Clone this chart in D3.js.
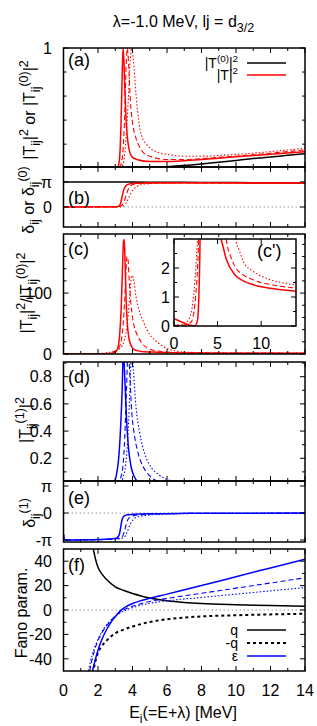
<!DOCTYPE html>
<html><head><meta charset="utf-8">
<script src="https://cdn.jsdelivr.net/npm/d3@7"></script>
<style>body{margin:0;background:#fff}svg{display:block;font-family:"Liberation Sans",Arial,Helvetica,sans-serif}</style>
</head><body><svg id="chart" width="317" height="726"></svg>
<script>
// ---------------- DATA ----------------
const xMajorTicks = [0, 2, 4, 6, 8, 10, 12, 14];
const xMinorTicks = [1, 3, 5, 7, 9, 11, 13];

// (a) |T0|^2 and |T|^2
const T0sq = [[0,0],[3,0.002],[5,0.008],[6,0.013],[7,0.022],[8,0.035],[9,0.05],[10,0.065],[11,0.08],[12,0.093],[13,0.107],[14,0.12]];
const Tsq_solid = [[0,0],[3.0,0],[3.15,0.01],[3.25,0.08],[3.33,0.35],[3.4,0.75],[3.45,1.0],[3.5,0.9],[3.57,0.6],[3.65,0.35],[3.75,0.2],[3.85,0.13],[4.0,0.09],[4.3,0.07],[5,0.055],[6,0.055],[7,0.062],[8,0.072],[9,0.083],[10,0.095],[11,0.105],[12,0.116],[13,0.127],[14,0.138]];
const Tsq_dashed = [[0,0],[3.1,0],[3.3,0.02],[3.45,0.15],[3.55,0.45],[3.63,0.85],[3.7,1.0],[3.78,0.85],[3.88,0.55],[4.0,0.38],[4.2,0.25],[4.4,0.18],[4.6,0.135],[5,0.1],[5.5,0.08],[6,0.072],[7,0.072],[8,0.08],[9,0.09],[10,0.1],[11,0.112],[12,0.125],[13,0.138],[14,0.152]];
const Tsq_dotted = [[0,0],[3.2,0],[3.45,0.03],[3.6,0.2],[3.75,0.55],[3.87,0.9],[3.95,1.0],[4.05,0.9],[4.2,0.62],[4.4,0.35],[4.6,0.24],[4.8,0.2],[5,0.17],[5.5,0.13],[6,0.115],[7,0.1],[8,0.1],[9,0.106],[10,0.115],[11,0.125],[12,0.138],[13,0.152],[14,0.166]];

// (b) phase shifts
const delta0 = [[0,3.14],[2,3.13],[4,3.11],[6,3.09],[8,3.07],[10,3.05],[12,3.03],[14,3.01]];
const delta_solid = [[0,0],[3.0,0.02],[3.2,0.1],[3.3,0.4],[3.4,1.3],[3.45,1.8],[3.5,2.2],[3.6,2.6],[3.7,2.8],[3.9,2.92],[4.2,2.97],[5,3.0],[8,3.02],[14,3.0]];
const delta_dashed = [[0,0],[3.1,0.02],[3.3,0.1],[3.45,0.4],[3.55,0.9],[3.65,1.6],[3.75,2.2],[3.85,2.55],[4.0,2.78],[4.3,2.92],[4.8,2.98],[6,3.01],[14,3.0]];
const delta_dotted = [[0,0],[3.2,0.02],[3.45,0.12],[3.6,0.4],[3.75,1.0],[3.9,1.7],[4.05,2.2],[4.25,2.55],[4.5,2.78],[5,2.92],[5.6,2.98],[7,3.01],[14,3.0]];

// (c) and (c') ratio |T|^2/|T0|^2
const ratio_solid = [[0,0.25],[0.5,0.19],[1,0.12],[1.5,0.06],[2,0.02],[2.4,0.01],[2.7,0.2],[2.85,1.0],[2.95,2.2],[3.05,4.5],[3.15,10],[3.25,30],[3.35,80],[3.42,140],[3.48,185],[3.52,188],[3.57,150],[3.63,90],[3.7,50],[3.8,25],[3.9,15],[4.0,10],[4.2,6],[4.5,4.2],[5,3.3],[5.4,3.0],[6,2.3],[7,1.76],[8,1.55],[9,1.43],[10,1.35],[11,1.3],[12,1.26],[13,1.23],[14,1.2]];
const ratio_dashed = [[0,0.02],[0.5,0.03],[1,0.03],[1.5,0.04],[2,0.15],[2.3,0.5],[2.5,1.1],[2.7,2.0],[2.85,3.2],[3.0,5],[3.2,10],[3.35,22],[3.45,45],[3.55,90],[3.62,135],[3.68,160],[3.73,158],[3.8,125],[3.9,85],[4.0,60],[4.1,45],[4.23,34],[4.4,24],[4.6,16],[5,8],[5.5,4.8],[6,3.0],[6.5,2.4],[7,2.05],[8,1.75],[9,1.6],[10,1.5],[11,1.43],[12,1.38],[13,1.34],[14,1.31]];
const ratio_dotted = [[0,0.01],[0.5,0.02],[1,0.05],[1.5,0.15],[2,0.5],[2.3,1.2],[2.5,2.0],[2.7,3.0],[3.0,5],[3.3,10],[3.5,20],[3.65,40],[3.75,65],[3.85,100],[3.93,125],[4.0,129],[4.08,120],[4.2,95],[4.4,70],[4.6,55],[4.8,42],[5.0,32],[5.5,18],[6,9],[6.5,5],[7,3.1],[7.5,2.6],[8,2.2],[9,1.9],[10,1.72],[11,1.6],[12,1.52],[13,1.46],[14,1.41]];

// (d) |T1|^2
const T1sq_solid = [[2.9,0],[3.0,0.04],[3.1,0.1],[3.2,0.2],[3.3,0.4],[3.4,0.7],[3.47,1.0],[3.55,0.8],[3.65,0.5],[3.75,0.3],[3.9,0.15],[4.05,0.08],[4.25,0.035],[4.5,0.02],[5,0.01],[14,0]];
const T1sq_dashed = [[3.1,0],[3.3,0.05],[3.45,0.15],[3.55,0.35],[3.65,0.7],[3.75,1.0],[3.85,0.8],[3.95,0.55],[4.1,0.38],[4.3,0.25],[4.5,0.17],[4.75,0.11],[5.0,0.07],[5.3,0.04],[5.7,0.025],[6.5,0.01],[14,0]];
const T1sq_dotted = [[3.2,0],[3.45,0.06],[3.6,0.15],[3.75,0.4],[3.85,0.7],[3.95,1.0],[4.05,0.85],[4.2,0.58],[4.4,0.4],[4.6,0.28],[4.8,0.2],[5.1,0.13],[5.5,0.08],[6.0,0.045],[6.5,0.03],[7.5,0.015],[14,0]];

// (e) delta1
const delta1_solid = [[0,-2.45],[0.05,-3.1],[0.3,-3.14],[1,-3.12],[2,-3.08],[2.6,-3.03],[3.0,-2.95],[3.15,-2.8],[3.25,-2.4],[3.32,-1.6],[3.38,-0.9],[3.45,-0.5],[3.55,-0.3],[3.7,-0.2],[4,-0.15],[5,-0.08],[7,-0.04],[10,-0.02],[14,-0.01]];
const delta1_dashed = [[0,-2.45],[0.05,-3.1],[0.3,-3.14],[2,-3.1],[3.0,-3.0],[3.3,-2.9],[3.45,-2.6],[3.55,-2.0],[3.65,-1.2],[3.75,-0.7],[3.9,-0.45],[4.1,-0.3],[4.5,-0.2],[5.5,-0.1],[8,-0.04],[14,-0.015]];
const delta1_dotted = [[0,-2.45],[0.05,-3.1],[0.3,-3.14],[2,-3.1],[3.1,-3.02],[3.45,-2.9],[3.6,-2.6],[3.75,-1.9],[3.9,-1.2],[4.05,-0.75],[4.3,-0.45],[4.7,-0.3],[5.3,-0.18],[6.5,-0.09],[9,-0.04],[14,-0.02]];

// (f) Fano parameters
const q_vals = [[1.7,52],[1.85,42],[2.0,35],[2.2,30],[2.5,25],[3,19],[3.5,16],[4,13.5],[4.5,11.5],[5,9.8],[6,7.6],[7,6.2],[8,5.3],[10,4.3],[12,3.6],[14,3.1]];
const eps_solid = [[1.68,-50],[1.8,-43],[2.0,-33],[2.2,-25],[2.5,-16],[2.8,-9],[3.0,-5.5],[3.3,-0.5],[3.6,2.5],[4,5.3],[4.4,7.3],[4.8,8.8],[6,13],[8,20],[10,27.3],[12,34.5],[14,41.7]];
const eps_dashed = [[1.52,-50],[1.6,-44],[1.8,-33],[2.0,-25],[2.3,-17],[2.6,-11],[3.0,-5],[3.3,-1.5],[3.7,1.5],[4.2,4],[5,7],[6,9.5],[8,13.7],[10,17.9],[12,22.1],[14,26.4]];
const eps_dotted = [[1.45,-50],[1.55,-43],[1.75,-33],[2.0,-24],[2.3,-16],[2.6,-10.5],[3.0,-5],[3.4,-1.5],[3.8,1],[4.3,3.2],[5,5.5],[6,7.5],[8,10.3],[10,13],[12,15.7],[14,18.4]];

// ---------------- DRAWING ----------------
const svg = d3.select("#chart");
const FS = 16;
const x = d3.scaleLinear().domain([0, 14]).range([63.5, 305]);
const RED = "#ff0000", BLUE = "#0000ff", BLACK = "#000";
const STY = {
  solid: {w: 1.5, dash: null},
  dashed: {w: 1.1, dash: "5,3"},
  dotted: {w: 1.1, dash: "1.5,2"}
};

function rich(sel, parts, fs, k) {
  k = k || 0.78;
  let off = 0;
  parts.forEach(([s, m]) => {
    const target = m === 1 ? fs * 0.3 : m === 2 ? -fs * 0.45 : 0;
    const size = m ? fs * k : fs;
    sel.append("tspan").attr("dy", target - off).attr("font-size", size).text(s);
    off = target;
  });
  return sel;
}

let clipId = 0;
function panel(y0, y1, domain) {
  const y = d3.scaleLinear().domain(domain).range([y1, y0]);
  const g = svg.append("g");
  const id = "clip" + (clipId++);
  svg.append("clipPath").attr("id", id).append("rect")
    .attr("x", x.range()[0]).attr("y", y0).attr("width", x.range()[1] - x.range()[0]).attr("height", y1 - y0);
  const plot = g.append("g").attr("clip-path", `url(#${id})`);
  return {g, plot, y, y0, y1};
}

function line(p, data, color, style, xs) {
  const xsc = xs || x;
  const gen = d3.line().x(d => xsc(d[0])).y(d => p.y(d[1])).curve(d3.curveMonotoneX);
  const s = STY[style];
  p.plot.append("path").attr("d", gen(data)).attr("fill", "none")
    .attr("stroke", color).attr("stroke-width", s.w)
    .attr("stroke-dasharray", s.dash);
}

function zeroLine(p, val) {
  p.plot.append("line").attr("x1", x(0)).attr("x2", x(14)).attr("y1", p.y(val)).attr("y2", p.y(val))
    .attr("stroke", "#999").attr("stroke-width", 1).attr("stroke-dasharray", "1.5,2.5");
}

function frame(p, yMajor, yMinor, yLabels, xs, opts) {
  const xsc = xs || x;
  const [xl, xr] = xsc.range();
  const g = p.g;
  const ax = g.append("g").attr("stroke", "#000").attr("stroke-width", 1);
  const xMaj = (opts && opts.xMaj) || xMajorTicks;
  const xMin = (opts && opts.xMin) || xMinorTicks;
  xMaj.forEach(t => {
    ax.append("line").attr("x1", xsc(t)).attr("x2", xsc(t)).attr("y1", p.y1).attr("y2", p.y1 - 5);
    ax.append("line").attr("x1", xsc(t)).attr("x2", xsc(t)).attr("y1", p.y0).attr("y2", p.y0 + 5);
  });
  xMin.forEach(t => {
    ax.append("line").attr("x1", xsc(t)).attr("x2", xsc(t)).attr("y1", p.y1).attr("y2", p.y1 - 3);
    ax.append("line").attr("x1", xsc(t)).attr("x2", xsc(t)).attr("y1", p.y0).attr("y2", p.y0 + 3);
  });
  yMajor.forEach(t => {
    ax.append("line").attr("x1", xl).attr("x2", xl + 5).attr("y1", p.y(t)).attr("y2", p.y(t));
    ax.append("line").attr("x1", xr).attr("x2", xr - 5).attr("y1", p.y(t)).attr("y2", p.y(t));
  });
  yMinor.forEach(t => {
    ax.append("line").attr("x1", xl).attr("x2", xl + 3).attr("y1", p.y(t)).attr("y2", p.y(t));
    ax.append("line").attr("x1", xr).attr("x2", xr - 3).attr("y1", p.y(t)).attr("y2", p.y(t));
  });
  g.append("rect").attr("x", xl).attr("y", p.y0).attr("width", xr - xl).attr("height", p.y1 - p.y0)
    .attr("fill", "none").attr("stroke", "#000").attr("stroke-width", 1.5);
  const lx = (opts && opts.labelX) || 52;
  yMajor.forEach((t, i) => {
    if (yLabels[i] == null) return;
    g.append("text").attr("x", lx).attr("y", p.y(t)).attr("dy", "0.36em")
      .attr("text-anchor", "end").attr("font-size", FS).text(yLabels[i]);
  });
}

function ylabel(parts, cx, cy) {
  const t = svg.append("text").attr("transform", `translate(${cx},${cy}) rotate(-90)`)
    .attr("text-anchor", "middle").attr("font-size", FS);
  rich(t, parts, FS);
}

function plabel(p, s, px, py) {
  p.g.append("text").attr("x", px).attr("y", py).attr("font-size", 18).text(s);
}

const PI = Math.PI;

// Title
rich(svg.append("text").attr("x", 183.5).attr("y", 27).attr("text-anchor", "middle").attr("font-size", FS),
  [["λ=-1.0 MeV, lj = d", 0], ["3/2", 1]], FS);

// (a)
const pa = panel(48, 167, [0.01, 1]);
line(pa, T0sq, BLACK, "solid");
line(pa, Tsq_dotted, RED, "dotted");
line(pa, Tsq_dashed, RED, "dashed");
line(pa, Tsq_solid, RED, "solid");
frame(pa, [1], [0.2, 0.4, 0.6, 0.8], ["1"]);
plabel(pa, "(a)", 68, 66);
// legend (a)
const LF = 14;
rich(pa.g.append("text").attr("x", 238).attr("y", 68).attr("text-anchor", "end").attr("font-size", LF),
  [["|T", 0], ["(0)", 2], ["|", 0], ["2", 2]], LF, 0.7);
pa.g.append("line").attr("x1", 247).attr("x2", 286).attr("y1", 63).attr("y2", 63).attr("stroke", BLACK).attr("stroke-width", 1.5);
rich(pa.g.append("text").attr("x", 238).attr("y", 80).attr("text-anchor", "end").attr("font-size", LF),
  [["|T|", 0], ["2", 2]], LF, 0.7);
pa.g.append("line").attr("x1", 247).attr("x2", 286).attr("y1", 75).attr("y2", 75).attr("stroke", RED).attr("stroke-width", 1.5);
ylabel([["|T", 0], ["ij", 1], ["|", 0], ["2", 2], [" or |T", 0], ["ij", 1], ["(0)", 2], ["|", 0], ["2", 2]], 35, 110);

// (b)
const pb = panel(167, 227, [-2.5, 5]);
zeroLine(pb, 0);
line(pb, delta0, BLACK, "solid");
line(pb, delta_dotted, RED, "dotted");
line(pb, delta_dashed, RED, "dashed");
line(pb, delta_solid, RED, "solid");
frame(pb, [0, PI], [], ["0", "π"]);
plabel(pb, "(b)", 68, 204);
ylabel([["δ", 0], ["ij", 1], [" or δ", 0], ["ij", 1], ["(0)", 2]], 34, 200);

// (c)
const pc = panel(234, 354, [0, 197]);
line(pc, ratio_dotted, RED, "dotted");
line(pc, ratio_dashed, RED, "dashed");
line(pc, ratio_solid, RED, "solid");
frame(pc, [0, 100], [20, 40, 60, 80, 120, 140, 160, 180], ["0", "100"]);
plabel(pc, "(c)", 68, 255);
ylabel([["|T", 0], ["ij", 1], ["|", 0], ["2", 2], ["/|T", 0], ["ij", 1], ["(0)", 2], ["|", 0], ["2", 2]], 32, 293);

// inset (c')
const xi = d3.scaleLinear().domain([0, 14]).range([174, 296]);
svg.append("rect").attr("x", 174).attr("y", 239).attr("width", 122).attr("height", 87).attr("fill", "#fff");
const pi_ = (function () {
  const y = d3.scaleLinear().domain([0, 3]).range([326, 239]);
  const g = svg.append("g");
  svg.append("clipPath").attr("id", "clipInset").append("rect").attr("x", 174).attr("y", 239).attr("width", 122).attr("height", 87);
  const plot = g.append("g").attr("clip-path", "url(#clipInset)");
  return {g, plot, y, y0: 239, y1: 326};
})();
line(pi_, ratio_dotted, RED, "dotted", xi);
line(pi_, ratio_dashed, RED, "dashed", xi);
line(pi_, ratio_solid, RED, "solid", xi);
frame(pi_, [0, 1, 2], [0.5, 1.5, 2.5], ["0", "1", "2"], xi, {xMaj: [0, 5, 10], xMin: [], labelX: 170});
[0, 5, 10].forEach(t => pi_.g.append("text").attr("x", xi(t)).attr("y", 349).attr("text-anchor", "middle").attr("font-size", FS).text(t));
plabel(pi_, "(c')", 257, 257);

// (d)
const pd = panel(362, 481, [0.033, 0.908]);
line(pd, T1sq_dotted, BLUE, "dotted");
line(pd, T1sq_dashed, BLUE, "dashed");
line(pd, T1sq_solid, BLUE, "solid");
frame(pd, [0.2, 0.4, 0.6, 0.8], [0.1, 0.3, 0.5, 0.7, 0.9], ["0.2", "0.4", "0.6", "0.8"]);
plabel(pd, "(d)", 68, 383);
ylabel([["|T", 0], ["ij", 1], ["(1)", 2], ["|", 0], ["2", 2]], 31, 420);

// (e)
const pe = panel(481, 542, [-3.37, 3.72]);
zeroLine(pe, 0);
line(pe, delta1_dotted, BLUE, "dotted");
line(pe, delta1_dashed, BLUE, "dashed");
line(pe, delta1_solid, BLUE, "solid");
frame(pe, [-PI, 0, PI], [], ["-π", "0", "π"]);
plabel(pe, "(e)", 68, 504);
ylabel([["δ", 0], ["ij", 1], ["(1)", 2]], 35, 513);

// (f)
const pf = panel(549, 671, [-50, 50]);
zeroLine(pf, 0);
line(pf, q_vals, BLACK, "solid");
pf.plot.append("path").attr("d", d3.line().x(d => x(d[0])).y(d => pf.y(-d[1])).curve(d3.curveMonotoneX)(q_vals))
  .attr("fill", "none").attr("stroke", BLACK).attr("stroke-width", 2).attr("stroke-dasharray", "3,3");
line(pf, eps_dotted, BLUE, "dotted");
line(pf, eps_dashed, BLUE, "dashed");
line(pf, eps_solid, BLUE, "solid");
frame(pf, [-40, -20, 0, 20, 40], [-30, -10, 10, 30], ["-40", "-20", "0", "20", "40"]);
plabel(pf, "(f)", 68, 571);
svg.append("text").attr("transform", "translate(27,613) rotate(-90)").attr("text-anchor", "middle").attr("font-size", FS).text("Fano param.");
// legend (f)
[["q", 630, BLACK, null, 1.5], ["-q", 643, BLACK, "3,3", 2], ["ε", 656, BLUE, null, 1.5]].forEach(([s, yy, c, da, w]) => {
  pf.g.append("text").attr("x", 238).attr("y", yy + 4.5).attr("text-anchor", "end").attr("font-size", LF).text(s);
  pf.g.append("line").attr("x1", 247).attr("x2", 286).attr("y1", yy).attr("y2", yy).attr("stroke", c).attr("stroke-width", w).attr("stroke-dasharray", da);
});

// x tick labels & x label
xMajorTicks.forEach(t => svg.append("text").attr("x", x(t)).attr("y", 695.5).attr("text-anchor", "middle").attr("font-size", FS).text(t));
rich(svg.append("text").attr("x", 183).attr("y", 718).attr("text-anchor", "middle").attr("font-size", FS),
  [["E", 0], ["i", 1], ["(=E+λ) [MeV]", 0]], FS);
</script></body></html>
